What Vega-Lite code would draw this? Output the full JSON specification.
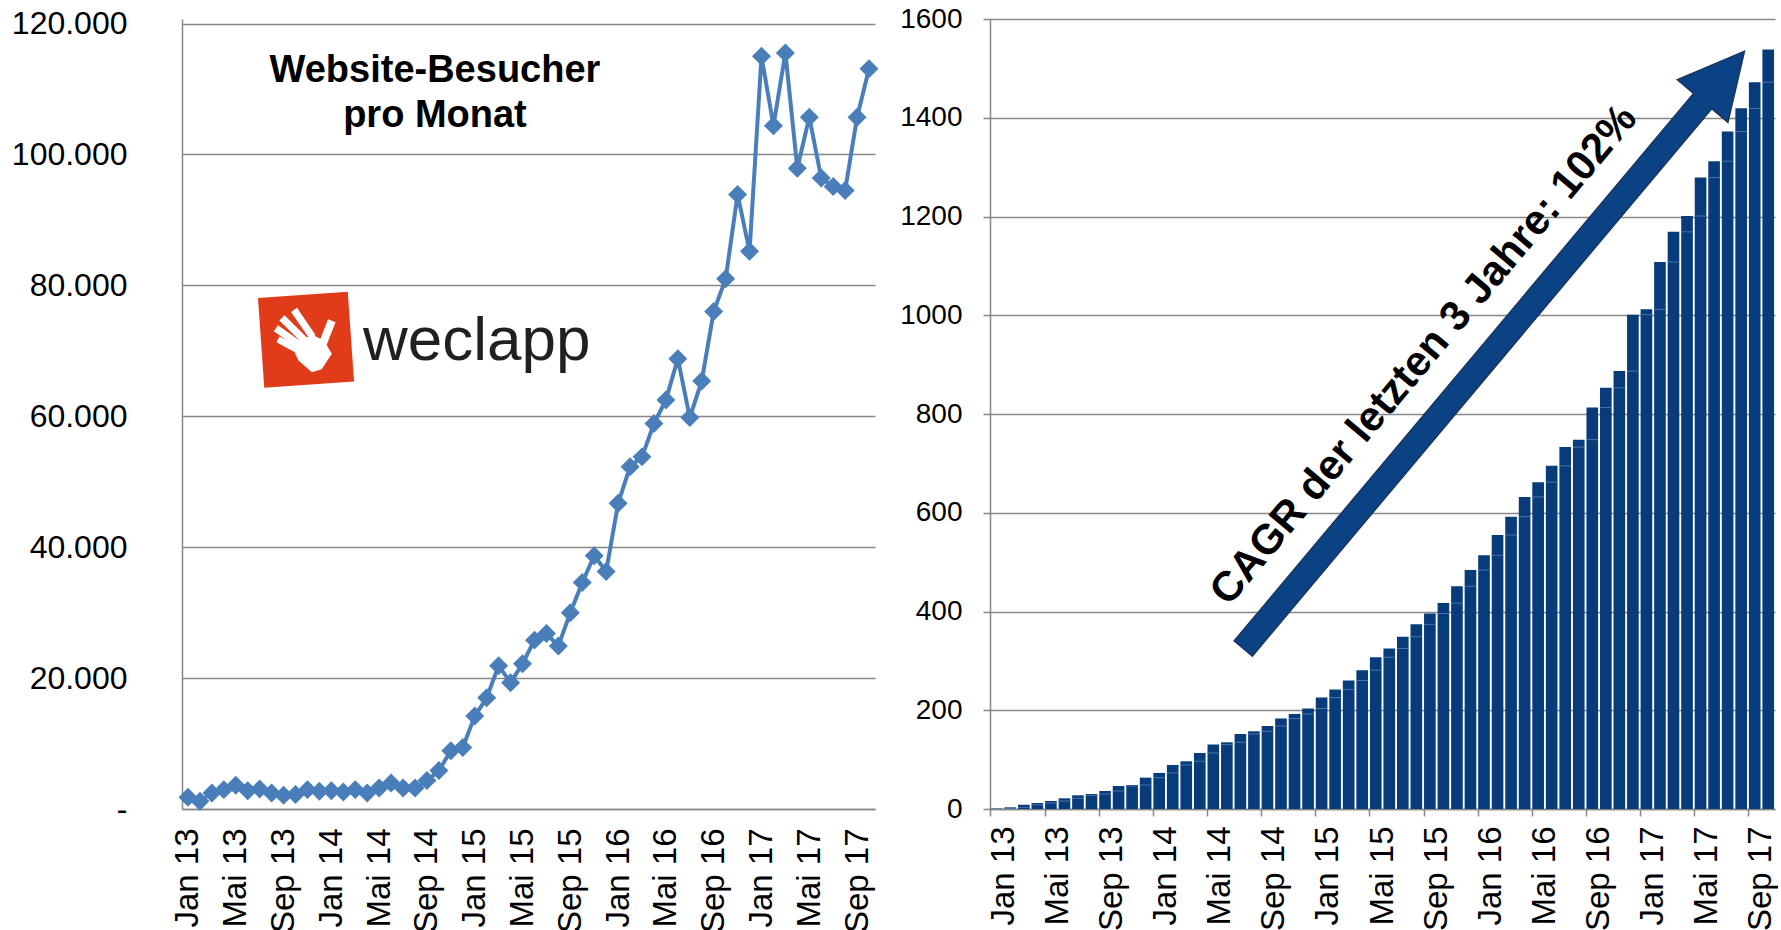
{
  "$schema": "https://vega.github.io/schema/vega-lite/v6.json",
  "background": "white",
  "padding": {"left": 11, "top": 5, "right": 0, "bottom": 0},
  "spacing": 20,
  "config": {
    "font": "Liberation Sans",
    "view": {"stroke": null},
    "axis": {
      "labelFont": "Liberation Sans",
      "labelColor": "black",
      "domainColor": "#878787",
      "domainWidth": 1.5,
      "gridColor": "#878787",
      "gridWidth": 1.5,
      "tickColor": "#878787",
      "tickWidth": 1.5
    }
  },
  "datasets": {
    "monate": [
      {"Monat": "Jan 13", "Besucher": 1800, "Kunden": 1},
      {"Monat": "Feb 13", "Besucher": 1200, "Kunden": 3.4},
      {"Monat": "Mär 13", "Besucher": 2450, "Kunden": 8.8},
      {"Monat": "Apr 13", "Besucher": 2960, "Kunden": 12.2},
      {"Monat": "Mai 13", "Besucher": 3620, "Kunden": 16.2},
      {"Monat": "Jun 13", "Besucher": 2800, "Kunden": 21.6},
      {"Monat": "Jul 13", "Besucher": 3060, "Kunden": 27.7},
      {"Monat": "Aug 13", "Besucher": 2450, "Kunden": 30.4},
      {"Monat": "Sep 13", "Besucher": 2090, "Kunden": 36.5},
      {"Monat": "Okt 13", "Besucher": 2200, "Kunden": 46.6},
      {"Monat": "Nov 13", "Besucher": 2960, "Kunden": 48.6},
      {"Monat": "Dez 13", "Besucher": 2700, "Kunden": 63.5},
      {"Monat": "Jan 14", "Besucher": 2800, "Kunden": 73},
      {"Monat": "Feb 14", "Besucher": 2600, "Kunden": 89.2},
      {"Monat": "Mär 14", "Besucher": 2960, "Kunden": 96.6},
      {"Monat": "Apr 14", "Besucher": 2450, "Kunden": 113.5},
      {"Monat": "Mai 14", "Besucher": 3200, "Kunden": 130.4},
      {"Monat": "Jun 14", "Besucher": 3980, "Kunden": 135.1},
      {"Monat": "Jul 14", "Besucher": 3200, "Kunden": 152},
      {"Monat": "Aug 14", "Besucher": 3200, "Kunden": 157.4},
      {"Monat": "Sep 14", "Besucher": 4340, "Kunden": 168.2},
      {"Monat": "Okt 14", "Besucher": 5870, "Kunden": 183.1},
      {"Monat": "Nov 14", "Besucher": 8900, "Kunden": 192.6},
      {"Monat": "Dez 14", "Besucher": 9400, "Kunden": 203.4},
      {"Monat": "Jan 15", "Besucher": 14200, "Kunden": 225.7},
      {"Monat": "Feb 15", "Besucher": 17000, "Kunden": 241.9},
      {"Monat": "Mär 15", "Besucher": 21900, "Kunden": 260.1},
      {"Monat": "Apr 15", "Besucher": 19300, "Kunden": 281.1},
      {"Monat": "Mai 15", "Besucher": 22200, "Kunden": 307.4},
      {"Monat": "Jun 15", "Besucher": 25800, "Kunden": 325},
      {"Monat": "Jul 15", "Besucher": 26800, "Kunden": 349},
      {"Monat": "Aug 15", "Besucher": 24900, "Kunden": 374},
      {"Monat": "Sep 15", "Besucher": 30000, "Kunden": 396},
      {"Monat": "Okt 15", "Besucher": 34600, "Kunden": 417},
      {"Monat": "Nov 15", "Besucher": 38700, "Kunden": 451},
      {"Monat": "Dez 15", "Besucher": 36300, "Kunden": 484},
      {"Monat": "Jan 16", "Besucher": 46700, "Kunden": 514},
      {"Monat": "Feb 16", "Besucher": 52300, "Kunden": 555},
      {"Monat": "Mär 16", "Besucher": 53800, "Kunden": 592},
      {"Monat": "Apr 16", "Besucher": 58900, "Kunden": 632},
      {"Monat": "Mai 16", "Besucher": 62500, "Kunden": 662},
      {"Monat": "Jun 16", "Besucher": 68800, "Kunden": 695},
      {"Monat": "Jul 16", "Besucher": 59800, "Kunden": 733},
      {"Monat": "Aug 16", "Besucher": 65400, "Kunden": 748},
      {"Monat": "Sep 16", "Besucher": 76000, "Kunden": 813},
      {"Monat": "Okt 16", "Besucher": 81000, "Kunden": 853},
      {"Monat": "Nov 16", "Besucher": 93900, "Kunden": 887},
      {"Monat": "Dez 16", "Besucher": 85200, "Kunden": 1001},
      {"Monat": "Jan 17", "Besucher": 115000, "Kunden": 1012},
      {"Monat": "Feb 17", "Besucher": 104400, "Kunden": 1108},
      {"Monat": "Mär 17", "Besucher": 115500, "Kunden": 1169},
      {"Monat": "Apr 17", "Besucher": 97900, "Kunden": 1201},
      {"Monat": "Mai 17", "Besucher": 105700, "Kunden": 1279},
      {"Monat": "Jun 17", "Besucher": 96400, "Kunden": 1312},
      {"Monat": "Jul 17", "Besucher": 95100, "Kunden": 1372},
      {"Monat": "Aug 17", "Besucher": 94500, "Kunden": 1419},
      {"Monat": "Sep 17", "Besucher": 105700, "Kunden": 1472},
      {"Monat": "Okt 17", "Besucher": 113100, "Kunden": 1538}
    ]
  },
  "hconcat": [
    {
      "width": 693,
      "height": 790,
      "layer": [
        {
          "data": {"name": "monate"},
          "mark": {
            "type": "line",
            "color": "#4a7ebb",
            "strokeWidth": 4,
            "point": {"shape": "diamond", "size": 360, "filled": true, "color": "#4a7ebb", "opacity": 1}
          },
          "encoding": {
            "x": {
              "field": "Monat", "type": "ordinal", "sort": null,
              "scale": {"type": "point", "padding": 0.5},
              "axis": {
                "title": null,
                "values": ["Jan 13","Mai 13","Sep 13","Jan 14","Mai 14","Sep 14","Jan 15","Mai 15","Sep 15","Jan 16","Mai 16","Sep 16","Jan 17","Mai 17","Sep 17"],
                "labelAngle": -90, "labelFontSize": 33, "ticks": false, "tickSize": 0,
                "labelPadding": 19, "grid": false
              }
            },
            "y": {
              "field": "Besucher", "type": "quantitative",
              "scale": {"domain": [0, 120700], "nice": false},
              "axis": {
                "title": null,
                "values": [0, 20000, 40000, 60000, 80000, 100000, 120000],
                "labelExpr": "datum.value == 0 ? '-\u00a0\u00a0' : replace(format(datum.value, ','), ',', '.')",
                "labelFontSize": 32, "labelPadding": 55, "ticks": false, "tickSize": 0, "grid": true
              }
            }
          }
        },
        {
          "data": {"values": [{"x": 20.67, "y": 111016, "Titel": "Website-Besucher\npro Monat"}]},
          "mark": {"type": "text", "align": "center", "baseline": "alphabetic", "fontSize": 38, "fontWeight": "bold", "color": "black", "lineBreak": "\n", "lineHeight": 45},
          "encoding": {
            "x": {"field": "x", "type": "quantitative", "scale": {"domain": [-0.5, 57.5], "nice": false, "zero": false}, "axis": null},
            "y": {"field": "y", "type": "quantitative", "scale": {"domain": [0, 120700], "nice": false}, "axis": null},
            "text": {"field": "Titel"}
          }
        },
        {
          "data": {"values": [{"x": 9.88, "y": 71704}]},
          "mark": {"type": "point", "shape": "square", "size": 8100, "angle": -4, "filled": true, "color": "#e03c1a", "opacity": 1},
          "encoding": {
            "x": {"field": "x", "type": "quantitative", "scale": {"domain": [-0.5, 57.5], "nice": false, "zero": false}, "axis": null},
            "y": {"field": "y", "type": "quantitative", "scale": {"domain": [0, 120700], "nice": false}, "axis": null}
          }
        },
        {
          "data": {"values": [{"x": 9.88, "y": 71704}]},
          "mark": {
            "type": "point",
            "shape": "M-0.289,-0.639L0.081,-0.009L0.219,-0.091L-0.151,-0.721Z M-0.56,-0.467L-0.06,0.103L0.06,-0.003L-0.44,-0.573Z M-0.701,-0.238L-0.151,0.212L-0.049,0.088L-0.599,-0.362Z M-0.66,0.013L-0.19,0.313L-0.11,0.187L-0.58,-0.113Z M0.519,-0.418L0.269,0.112L0.431,0.188L0.681,-0.342Z M-0.1,0L-0.3,0.2L-0.2,0.45L0.08,0.73L0.3,0.68L0.55,0.35L0.4,0.05L0.15,-0.1Z",
            "size": 8100, "angle": -4, "filled": true, "color": "white", "opacity": 1
          },
          "encoding": {
            "x": {"field": "x", "type": "quantitative", "scale": {"domain": [-0.5, 57.5], "nice": false, "zero": false}, "axis": null},
            "y": {"field": "y", "type": "quantitative", "scale": {"domain": [0, 120700], "nice": false}, "axis": null}
          }
        },
        {
          "data": {"values": [{"x": 14.65, "y": 68648, "Logo": "weclapp"}]},
          "mark": {"type": "text", "align": "left", "baseline": "alphabetic", "fontSize": 62, "fontWeight": 300, "color": "#231f20"},
          "encoding": {
            "x": {"field": "x", "type": "quantitative", "scale": {"domain": [-0.5, 57.5], "nice": false, "zero": false}, "axis": null},
            "y": {"field": "y", "type": "quantitative", "scale": {"domain": [0, 120700], "nice": false}, "axis": null},
            "text": {"field": "Logo"}
          }
        }
      ],
      "resolve": {"scale": {"x": "independent", "y": "independent"}, "axis": {"x": "independent", "y": "independent"}}
    },
    {
      "width": 785,
      "height": 790,
      "layer": [
        {
          "data": {"name": "monate"},
          "layer": [
            {
              "mark": {"type": "bar", "color": "#073b7a"},
              "encoding": {
                "x": {
                  "field": "Monat", "type": "ordinal", "sort": null,
                  "scale": {"type": "band", "paddingInner": 0.14, "paddingOuter": 0.07},
                  "axis": {
                    "title": null,
                    "values": ["Jan 13","Mai 13","Sep 13","Jan 14","Mai 14","Sep 14","Jan 15","Mai 15","Sep 15","Jan 16","Mai 16","Sep 16","Jan 17","Mai 17","Sep 17"],
                    "labelAngle": -90, "labelFontSize": 33, "bandPosition": 0, "labelOffset": 6.77,
                    "ticks": true, "tickSize": 7, "labelPadding": 10, "grid": false
                  }
                },
                "y": {
                  "field": "Kunden", "type": "quantitative",
                  "scale": {"domain": [0, 1600], "nice": false},
                  "axis": {
                    "title": null,
                    "values": [0, 200, 400, 600, 800, 1000, 1200, 1400, 1600],
                    "format": "d",
                    "labelFontSize": 28, "labelPadding": 21, "tickSize": 7, "grid": true
                  }
                }
              }
            },
            {
              "transform": [{"window": [{"op": "lag", "field": "Kunden", "as": "Vormonat"}]}],
              "mark": {"type": "tick", "orient": "horizontal", "size": 11.6, "thickness": 1, "color": "#5f86bd", "opacity": 0.75},
              "encoding": {
                "x": {"field": "Monat", "type": "ordinal", "sort": null},
                "y": {"field": "Vormonat", "type": "quantitative", "axis": {"title": null, "format": "d"}}
              }
            }
          ]
        },
        {
          "data": {"values": [{"x": 37.23, "y": 930}]},
          "mark": {
            "type": "point",
            "shape": "M-0.0304,1L-0.0304,-0.833L-0.0847,-0.833L0,-1L0.0847,-0.833L0.0304,-0.833L0.0304,1Z",
            "size": 607932, "angle": 40, "filled": true, "fill": "#0b4283", "stroke": "#1a3560", "strokeWidth": 1.5, "opacity": 1
          },
          "encoding": {
            "x": {"field": "x", "type": "quantitative", "scale": {"domain": [0, 58], "nice": false, "zero": false}, "axis": null},
            "y": {"field": "y", "type": "quantitative", "scale": {"domain": [0, 1600], "nice": false}, "axis": null}
          }
        },
        {
          "data": {"values": [{"x": 32.78, "y": 903, "Text": "CAGR der letzten 3 Jahre: 102%"}]},
          "mark": {"type": "text", "angle": -50, "align": "center", "baseline": "alphabetic", "fontSize": 42, "fontWeight": "bold", "color": "black"},
          "encoding": {
            "x": {"field": "x", "type": "quantitative", "scale": {"domain": [0, 58], "nice": false, "zero": false}, "axis": null},
            "y": {"field": "y", "type": "quantitative", "scale": {"domain": [0, 1600], "nice": false}, "axis": null},
            "text": {"field": "Text"}
          }
        }
      ],
      "resolve": {"scale": {"x": "independent", "y": "independent"}, "axis": {"x": "independent", "y": "independent"}}
    }
  ]
}
